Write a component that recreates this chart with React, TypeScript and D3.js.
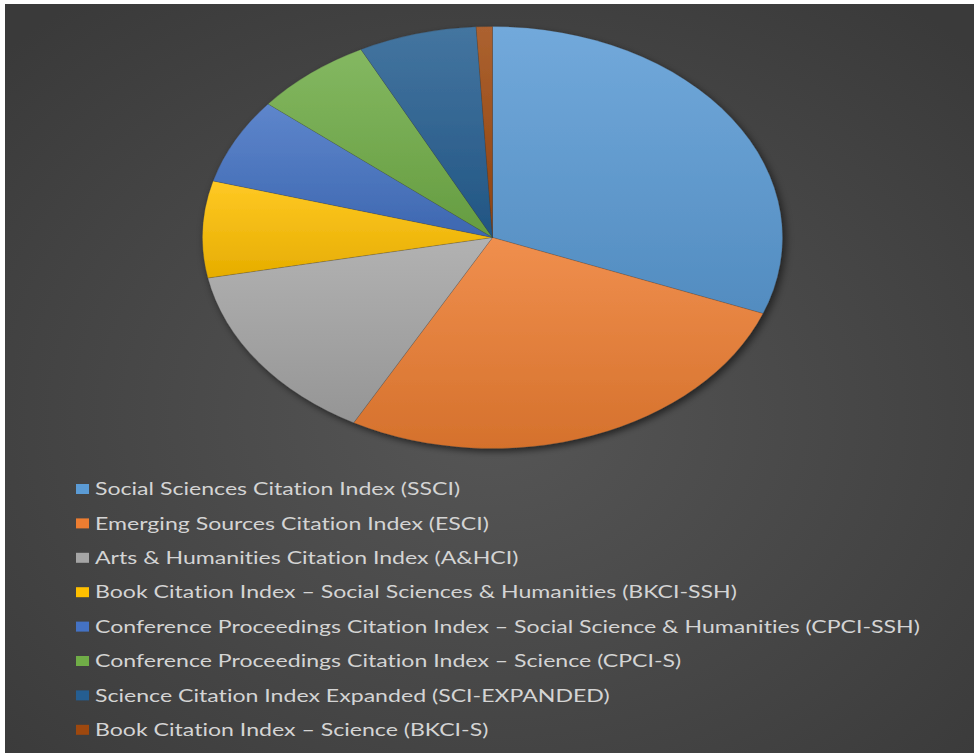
import * as d3 from "d3";

const categories = [
  "Social Sciences Citation Index (SSCI)",
  "Emerging Sources Citation Index (ESCI)",
  "Arts & Humanities Citation Index (A&HCI)",
  "Book Citation Index – Social Sciences & Humanities (BKCI-SSH)",
  "Conference Proceedings Citation Index – Social Science & Humanities (CPCI-SSH)",
  "Conference Proceedings Citation Index – Science (CPCI-S)",
  "Science Citation Index Expanded (SCI-EXPANDED)",
  "Book Citation Index – Science (BKCI-S)",
];

const shares = [30.9, 27.1, 14.0, 7.4, 6.6, 6.6, 6.6, 0.9];

const palette = ["#5b9bd5", "#ed7d31", "#a5a5a5", "#ffc000", "#4472c4", "#70ad47", "#255e91", "#9e480e"];

type Slice = { name: string; value: number };
const slices: Slice[] = categories.map((name, i) => ({ name, value: shares[i] }));

const FONT = "Lato, 'Open Sans', sans-serif";
const FONT_SIZE = 17.5;

// width of a label in the chosen font, measured off-screen on a canvas
const textWidth = (s: string) => {
  const ctx = document.createElement("canvas").getContext("2d");
  if (!ctx) return s.length * 8.5;
  ctx.font = `${FONT_SIZE}px ${FONT}`;
  return ctx.measureText(s).width;
};

const App = () => {
  const width = 974;
  const height = 753;
  const cx = 492.5;
  const cy = 237.5;
  const rx = 290;
  const ry = 211;

  const legendX = 76;
  const legendTop = 489;
  const legendStep = 34.4;
  const legendTextX = 95;
  const longestWidth = 826;

  const longest = categories.reduce((a, b) => (b.length > a.length ? b : a));
  const sx = longestWidth / textWidth(longest);

  const pie = d3.pie<Slice>().sort(null).value(d => d.value);
  const arc = d3.arc<d3.PieArcDatum<Slice>>().innerRadius(0).outerRadius(ry);
  const arcs = pie(slices);

  const light = (c: string) => d3.interpolateRgb(c, "#ffffff")(0.14);
  const dark = (c: string) => d3.interpolateRgb(c, "#000000")(0.1);

  return (
    <svg width={width} height={height} style={{ position: "absolute", left: 0, top: 0 }}>
      <defs>
        <radialGradient id="bg" cx="50%" cy="55%" r="70%">
          <stop offset="0%" stopColor="#565656" />
          <stop offset="100%" stopColor="#3a3a3a" />
        </radialGradient>
        {palette.map((c, i) => (
          <linearGradient key={i} id={`g${i}`} x1="0" y1="0" x2="0" y2="1">
            <stop offset="0%" stopColor={light(c)} />
            <stop offset="100%" stopColor={dark(c)} />
          </linearGradient>
        ))}
        <filter id="shadow" x="-10%" y="-10%" width="120%" height="120%">
          <feDropShadow dx="2" dy="3" stdDeviation="3" floodColor="#000" floodOpacity="0.55" />
        </filter>
      </defs>
      <rect x={0} y={0} width={width} height={height} fill="#fff" />
      <rect x={5} y={4} width={width - 5} height={height - 4} fill="url(#bg)" />

      <g transform={`translate(${cx},${cy}) scale(${rx / ry},1)`} filter="url(#shadow)">
        {arcs.map((a, i) => (
          <path
            key={i}
            d={arc(a) || ""}
            fill={`url(#g${i})`}
            stroke="rgba(60,60,60,0.35)"
            strokeWidth={0.6}
            vectorEffect="non-scaling-stroke"
          />
        ))}
      </g>

      <g>
        {categories.map((name, i) => {
          const y = legendTop + i * legendStep;
          return (
            <g key={name}>
              <rect x={legendX} y={y - 5} width={13} height={10} fill={palette[i]} />
              <g transform={`translate(${legendTextX},${y + 6.2}) scale(${sx},1)`}>
                <text
                  x={0}
                  y={0}
                  fill="#d4d4d4"
                  fontFamily={FONT}
                  fontSize={FONT_SIZE}
                  style={{ fontVariantLigatures: "none" }}
                >
                  {name}
                </text>
              </g>
            </g>
          );
        })}
      </g>
    </svg>
  );
};

export default App;
